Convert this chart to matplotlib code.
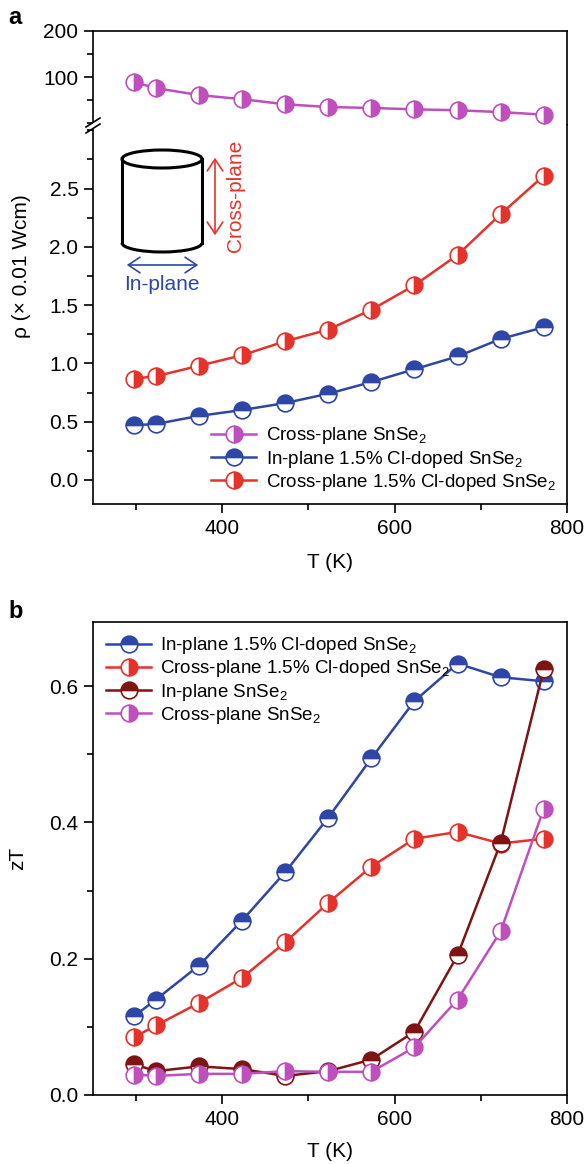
import numpy as np
import matplotlib
matplotlib.use("Agg")
from matplotlib import pyplot as plt
from matplotlib.patches import Ellipse, Arc, FancyArrowPatch
from matplotlib.lines import Line2D
from matplotlib.ticker import MultipleLocator, FormatStrFormatter

plt.rcParams['font.family'] = ['Liberation Sans', 'DejaVu Sans']
plt.rcParams['mathtext.fontset'] = 'custom'
plt.rcParams['mathtext.rm'] = 'Liberation Sans'
plt.rcParams['mathtext.default'] = 'regular'

# temperature points (K)
T = [298, 323, 373, 423, 473, 523, 573, 623, 673, 723, 773]

# panel a: resistivity (x 0.01 Ohm cm)
rho_cross = [89, 76, 61, 52, 41, 35, 33, 30, 28, 24, 18.5]
rho_in_cl = [0.47, 0.48, 0.55, 0.60, 0.66, 0.74, 0.84, 0.95, 1.06, 1.21, 1.31]
rho_cross_cl = [0.87, 0.89, 0.98, 1.07, 1.19, 1.29, 1.46, 1.67, 1.93, 2.28, 2.61]

# panel b: zT
zt_in_cl = [0.116, 0.140, 0.190, 0.256, 0.327, 0.407, 0.494, 0.578, 0.633, 0.613, 0.607]
zt_cross_cl = [0.085, 0.102, 0.135, 0.172, 0.224, 0.282, 0.335, 0.376, 0.386, 0.369, 0.376]
zt_in = [0.045, 0.035, 0.042, 0.038, 0.028, 0.035, 0.052, 0.093, 0.205, 0.370, 0.625]
zt_cross = [0.030, 0.028, 0.031, 0.031, 0.035, 0.034, 0.034, 0.070, 0.140, 0.240, 0.420]

BLUE = '#2E46A6'
RED = '#E5322B'
DRED = '#7E1414'
MAG = '#BE4FBC'

W, H = 587, 1164
fig = plt.figure(figsize=(W / 100, H / 100), dpi=100)

def fx(x): return x / W
def fy(y): return 1 - y / H

def style(color, fill):
    return dict(color=color, lw=1.8, marker='o', ms=12, mec=color, mew=1.2,
                mfc=color, mfcalt='white', fillstyle=fill)

def ticks(ax):
    ax.tick_params(which='major', direction='out', length=6.5, width=1.2, labelsize=15,
                   right=False, top=False, pad=4)
    ax.tick_params(which='minor', direction='out', length=4, width=1.2, right=False, top=False)
    for s in ax.spines.values():
        s.set_linewidth(1.2)

LEG = dict(frameon=False, fontsize=13.5, handlelength=2.4, labelspacing=0.12,
           handletextpad=0.5)

L, R = 93, 567
# ---- panel a ----
axt = fig.add_axes([fx(L), fy(125), fx(R) - fx(L), fy(31) - fy(125)])
axb = fig.add_axes([fx(L), fy(504), fx(R) - fx(L), fy(125) - fy(504)], sharex=axt)

axt.plot(T, rho_cross, **style(MAG, 'right'))
axt.set_ylim(-4, 200)
axt.set_yticks([100, 200])
axt.yaxis.set_minor_locator(MultipleLocator(50))
axt.spines['bottom'].set_visible(False)
axt.tick_params(axis='x', which='both', bottom=False, labelbottom=False)
axt.spines['left'].set_bounds(4.5, 200)
ticks(axt)

lb, = axb.plot(T, rho_in_cl, **style(BLUE, 'top'))
lc, = axb.plot(T, rho_cross_cl, **style(RED, 'right'))
la = Line2D([], [], **style(MAG, 'right'))
axb.set_ylim(-0.206, 3.045)
axb.set_xlim(250, 800)
axb.set_yticks([0.0, 0.5, 1.0, 1.5, 2.0, 2.5])
axb.yaxis.set_major_formatter(FormatStrFormatter('%.1f'))
axb.yaxis.set_minor_locator(MultipleLocator(0.25))
axb.set_xticks([400, 600, 800])
axb.xaxis.set_minor_locator(MultipleLocator(100))
axb.spines['top'].set_visible(False)
axb.spines['left'].set_bounds(-0.206, 3.0)
ticks(axb)
axb.set_xlabel('T (K)', fontsize=15, labelpad=11)
axb.legend([la, lb, lc],
           ['Cross-plane SnSe$_2$', 'In-plane 1.5% Cl-doped SnSe$_2$',
            'Cross-plane 1.5% Cl-doped SnSe$_2$'],
           loc='lower right', bbox_to_anchor=(1.0, 0.0), borderaxespad=0.2, **LEG)

fig.text(fx(22), fy(266), 'ρ (× 0.01 Wcm)', rotation=90, ha='center', va='center', fontsize=15)

# axis break marks
for y0 in (127, 133):
    fig.add_artist(Line2D([fx(86), fx(100)], [fy(y0), fy(y0 - 9)], color='black', lw=1.2))

# sample sketch
fig.add_artist(Ellipse((fx(162), fy(159)), fx(80), 18 / H, fill=False, lw=2.2, ec='black',
                       transform=fig.transFigure))
fig.add_artist(Arc((fx(162), fy(243)), fx(80), 18 / H, theta1=180, theta2=360, lw=2.2,
                   color='black', transform=fig.transFigure))
for x0 in (122, 202):
    fig.add_artist(Line2D([fx(x0), fx(x0)], [fy(159), fy(243)], color='black', lw=2.2))
fig.add_artist(FancyArrowPatch((fx(215), fy(155)), (fx(215), fy(238)),
                               arrowstyle='<->,head_length=6,head_width=4',
                               color=RED, lw=1.2, transform=fig.transFigure, mutation_scale=1.4))
fig.add_artist(FancyArrowPatch((fx(124), fy(265)), (fx(201), fy(265)),
                               arrowstyle='<->,head_length=6,head_width=4',
                               color=BLUE, lw=1.2, transform=fig.transFigure, mutation_scale=1.4))
fig.text(fx(236), fy(196), 'Cross-plane', rotation=90, color=RED, ha='center', va='center', fontsize=15)
fig.text(fx(162), fy(285), 'In-plane', color=BLUE, ha='center', va='center', fontsize=15)

# ---- panel b ----
ax2 = fig.add_axes([fx(L), fy(1095), fx(R) - fx(L), fy(622) - fy(1095)])
ax2.plot(T, zt_in_cl, label='In-plane 1.5% Cl-doped SnSe$_2$', **style(BLUE, 'top'))
ax2.plot(T, zt_cross_cl, label='Cross-plane 1.5% Cl-doped SnSe$_2$', **style(RED, 'right'))
ax2.plot(T, zt_in, label='In-plane SnSe$_2$', **style(DRED, 'top'))
ax2.plot(T, zt_cross, label='Cross-plane SnSe$_2$', **style(MAG, 'right'))
ax2.set_xlim(250, 800)
ax2.set_ylim(0, 0.694)
ax2.set_xticks([400, 600, 800])
ax2.xaxis.set_minor_locator(MultipleLocator(100))
ax2.set_yticks([0.0, 0.2, 0.4, 0.6])
ax2.yaxis.set_major_formatter(FormatStrFormatter('%.1f'))
ax2.yaxis.set_minor_locator(MultipleLocator(0.1))
ticks(ax2)
for ln in ax2.lines + axb.lines + axt.lines:
    ln.set_clip_on(False)
ax2.set_xlabel('T (K)', fontsize=15, labelpad=10)
ax2.set_ylabel('zT', fontsize=15, labelpad=16)
ax2.legend(loc='upper left', bbox_to_anchor=(0.0, 1.0), borderaxespad=0.3, **LEG)

fig.text(fx(8), fy(18), 'a', fontsize=17, fontweight='bold', va='center')
fig.text(fx(8), fy(612), 'b', fontsize=17, fontweight='bold', va='center')

fig.savefig('out.png', dpi=100)
